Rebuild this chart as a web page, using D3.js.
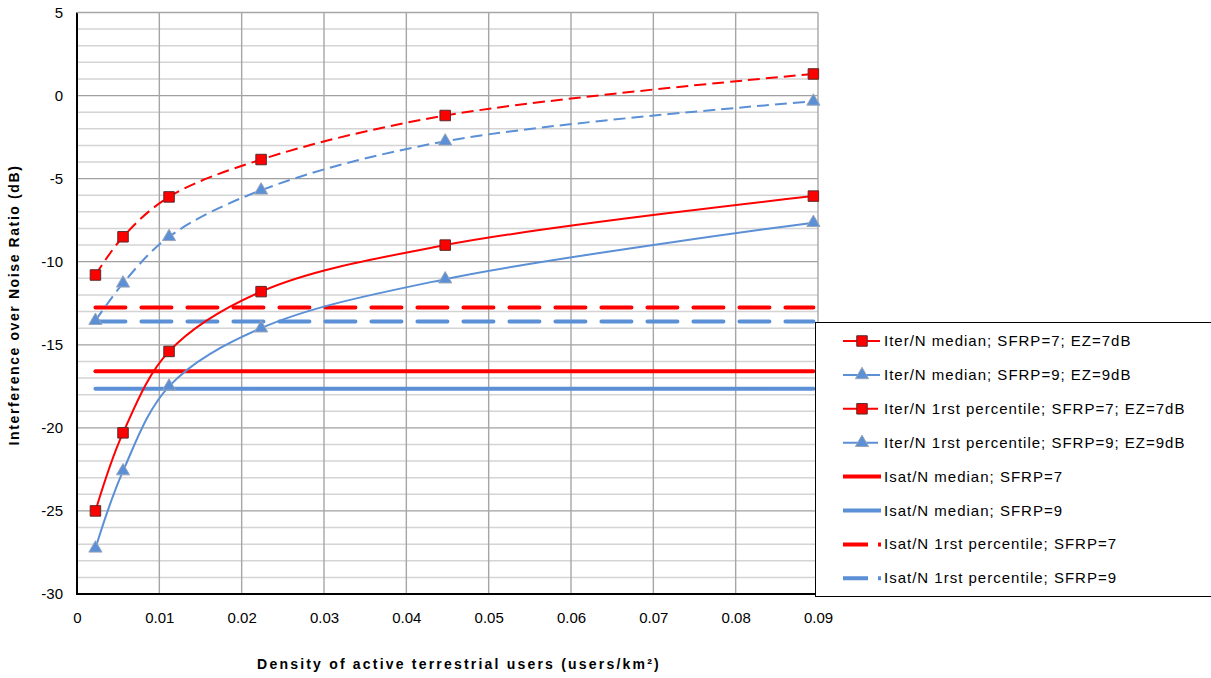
<!DOCTYPE html>
<html><head><meta charset="utf-8">
<script src="https://cdn.jsdelivr.net/npm/d3@7"></script>
<style>
body{margin:0;background:#fff;}
svg{display:block;font-family:"Liberation Sans",Arial,sans-serif;}
</style></head>
<body><svg id="c" width="1211" height="678"></svg>
<script>
// ---- data ----
const density = [0.00224, 0.00559, 0.01118, 0.02236, 0.04472, 0.08944];
const iterMedian7 = [-25.0, -20.3, -15.4, -11.8, -9.0, -6.05];
const iterMedian9 = [-27.25, -22.6, -17.5, -14.0, -11.05, -7.65];
const iterP1_7 = [-10.8, -8.5, -6.1, -3.85, -1.2, 1.3];
const iterP1_9 = [-13.55, -11.3, -8.5, -5.7, -2.75, -0.35];
const isatMedian7 = -16.6;
const isatMedian9 = -17.65;
const isatP1_7 = -12.75;
const isatP1_9 = -13.6;
const xTicks = [0, 0.01, 0.02, 0.03, 0.04, 0.05, 0.06, 0.07, 0.08, 0.09];
const yTicks = [5, 0, -5, -10, -15, -20, -25, -30];
const legendLabels = [
  "Iter/N median; SFRP=7; EZ=7dB",
  "Iter/N median; SFRP=9; EZ=9dB",
  "Iter/N 1rst percentile; SFRP=7; EZ=7dB",
  "Iter/N 1rst percentile; SFRP=9; EZ=9dB",
  "Isat/N median; SFRP=7",
  "Isat/N median; SFRP=9",
  "Isat/N 1rst percentile; SFRP=7",
  "Isat/N 1rst percentile; SFRP=9"
];

const RED = "#ff0000", BLUE = "#5b8fd6";
const svg = d3.select("#c");
const x = d3.scaleLinear().domain([0, 0.09]).range([77, 818]);
const y = d3.scaleLinear().domain([-30, 5]).range([594, 12.5]);

// grid
const minor = d3.range(-30, 6, 1).filter(v => v % 5 !== 0);
svg.append("g").selectAll("line").data(minor).join("line")
  .attr("x1", x(0)).attr("x2", x(0.09)).attr("y1", d => y(d)).attr("y2", d => y(d))
  .attr("stroke", "#d4d4d4").attr("stroke-width", 1.5);
svg.append("g").selectAll("line").data(yTicks.filter(v => v !== -30)).join("line")
  .attr("x1", x(0)).attr("x2", x(0.09)).attr("y1", d => y(d)).attr("y2", d => y(d))
  .attr("stroke", "#a0a0a0").attr("stroke-width", 1.2);
svg.append("g").selectAll("line").data(xTicks.filter(v => v !== 0)).join("line")
  .attr("x1", d => x(d)).attr("x2", d => x(d)).attr("y1", y(5)).attr("y2", y(-30))
  .attr("stroke", "#a6a6a6").attr("stroke-width", 1.4);

// axes
svg.append("line").attr("x1", x(0)).attr("x2", x(0)).attr("y1", y(5)).attr("y2", y(-30) + 1)
  .attr("stroke", "#000").attr("stroke-width", 2);
svg.append("line").attr("x1", x(0) - 1).attr("x2", x(0.09)).attr("y1", y(-30)).attr("y2", y(-30))
  .attr("stroke", "#000").attr("stroke-width", 2);

const yAxis = d3.axisLeft(y).tickValues(yTicks).tickSize(0).tickPadding(14).tickFormat(d => String(d));
const gy = svg.append("g").attr("transform", `translate(${x(0)},0)`).call(yAxis);
gy.select(".domain").remove();
gy.selectAll("text").attr("font-size", 15).attr("fill", "#000").attr("font-family", "Liberation Sans, Arial");

const xAxis = d3.axisBottom(x).tickValues(xTicks).tickSize(0).tickPadding(18).tickFormat(d => d === 0 ? "0" : d3.format(".2f")(d));
const gx = svg.append("g").attr("transform", `translate(0,${y(-30)})`).call(xAxis);
gx.select(".domain").remove();
gx.selectAll("text").attr("font-size", 15).attr("fill", "#000").attr("font-family", "Liberation Sans, Arial");

// titles
svg.append("text").attr("transform", `translate(19,305) rotate(-90)`).attr("text-anchor", "middle")
  .attr("font-size", 14).attr("letter-spacing", 1.6).attr("font-weight", "bold").text("Interference over Noise Ratio (dB)");
svg.append("text").attr("x", 459).attr("y", 669).attr("text-anchor", "middle")
  .attr("font-size", 14).attr("letter-spacing", 2.2).attr("font-weight", "bold").text("Density of active terrestrial users  (users/km²)");

// horizontal Isat lines
const x0 = density[0], x1 = density[density.length - 1];
const hLines = [
  {v: isatMedian7, c: RED, dash: null},
  {v: isatMedian9, c: BLUE, dash: null},
  {v: isatP1_7, c: RED, dash: "30,16"},
  {v: isatP1_9, c: BLUE, dash: "30,16"}
];
svg.append("g").selectAll("line").data(hLines).join("line")
  .attr("x1", x(x0)).attr("x2", x(x1)).attr("y1", d => y(d.v)).attr("y2", d => y(d.v))
  .attr("stroke", d => d.c).attr("stroke-width", 4).attr("stroke-linecap", "round")
  .attr("stroke-dasharray", d => d.dash);

// series
const series = [
  {vals: iterMedian7, c: RED, m: "sq", dash: null},
  {vals: iterMedian9, c: BLUE, m: "tri", dash: null},
  {vals: iterP1_7, c: RED, m: "sq", dash: "12,6"},
  {vals: iterP1_9, c: BLUE, m: "tri", dash: "12,6"}
];
const line = d3.line().x(d => x(d[0])).y(d => y(d[1])).curve(d3.curveCatmullRom.alpha(0.5));
series.forEach(s => {
  const pts = density.map((d, i) => [d, s.vals[i]]);
  svg.append("path").attr("d", line(pts)).attr("fill", "none").attr("stroke", s.c)
    .attr("stroke-width", 2).attr("stroke-dasharray", s.dash);
});
const sq = d3.symbol().type(d3.symbolSquare).size(110);
const tri = d3.symbol().type(d3.symbolTriangle).size(75);
function marker(g, m, px, py) {
  if (m === "sq") {
    g.append("path").attr("d", sq()).attr("transform", `translate(${px},${py})`)
      .attr("fill", RED).attr("stroke", "#5a2a2a").attr("stroke-width", 1);
  } else {
    g.append("path").attr("d", tri()).attr("transform", `translate(${px},${py})`)
      .attr("fill", BLUE).attr("stroke", "#9aa6b8").attr("stroke-width", 1);
  }
}
series.forEach(s => {
  const g = svg.append("g");
  density.forEach((d, i) => marker(g, s.m, x(d), y(s.vals[i])));
});

// plot border (top)
svg.append("line").attr("x1", x(0)).attr("x2", x(0.09)).attr("y1", y(5)).attr("y2", y(5))
  .attr("stroke", "#a6a6a6").attr("stroke-width", 1.4);

// legend
const lg = svg.append("g");
lg.append("rect").attr("x", 815.5).attr("y", 322.5).attr("width", 400).attr("height", 274)
  .attr("fill", "#fff").attr("stroke", "#000").attr("stroke-width", 1);
const legendStyle = [
  {c: RED, m: "sq", dash: null, w: 2},
  {c: BLUE, m: "tri", dash: null, w: 2},
  {c: RED, m: "sq", dash: "16,3", w: 2},
  {c: BLUE, m: "tri", dash: "16,3", w: 2},
  {c: RED, m: null, dash: null, w: 4},
  {c: BLUE, m: null, dash: null, w: 4},
  {c: RED, m: null, dash: "25,10", w: 4},
  {c: BLUE, m: null, dash: "25,10", w: 4}
];
legendLabels.forEach((lab, i) => {
  const yy = 341 + i * 33.9;
  const st = legendStyle[i];
  lg.append("line").attr("x1", 843).attr("x2", st.m ? 880 : 881).attr("y1", yy).attr("y2", yy)
    .attr("stroke", st.c).attr("stroke-width", st.w).attr("stroke-dasharray", st.dash);
  if (st.m) marker(lg, st.m, 862, yy);
  lg.append("text").attr("x", 884).attr("y", yy + 5).attr("font-size", 15).attr("letter-spacing", 1)
    .attr("fill", "#000").text(lab);
});
</script></body></html>
